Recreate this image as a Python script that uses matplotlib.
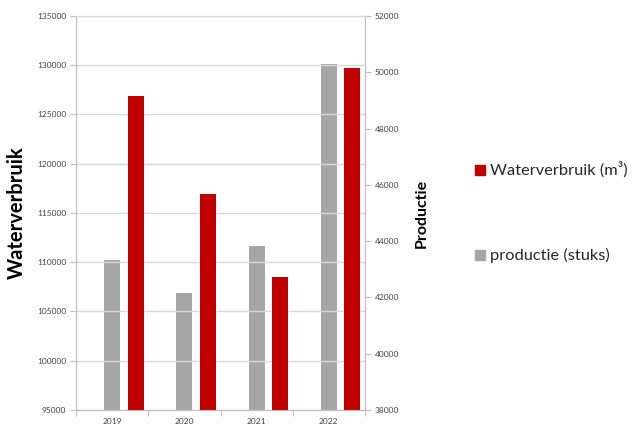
import matplotlib
matplotlib.use("Agg")
import matplotlib.pyplot as plt
from matplotlib.patches import Rectangle
import numpy as np

# Data
years = ["2019", "2020", "2021", "2022"]
waterverbruik = [126900, 116900, 108500, 129700]   # left axis
productie = [43330, 42170, 43830, 50300]            # right axis (stuks)

left_ticks = [95000, 100000, 105000, 110000, 115000, 120000, 125000, 130000, 135000]
right_ticks = [38000, 40000, 42000, 44000, 46000, 48000, 50000, 52000]

RED = "#C00000"
GREY = "#A6A6A6"
GRID = "#D9D9D9"
SPINE = "#BFBFBF"
TXT = "#404040"

plt.rcParams["font.family"] = ["Lato", "DejaVu Sans"]

W, H = 632, 432
fig = plt.figure(figsize=(W / 100, H / 100), dpi=100)
ax = fig.add_axes([76 / W, 1 - 410 / H, (365 - 76) / W, (410 - 16) / H])
ax2 = ax.twinx()

x = np.arange(len(years))
width = 0.22
offset = 0.325

bars_w = ax.bar(x + offset, waterverbruik, width, color=RED, zorder=3,
                label="Waterverbruik (m³)")
bars_p = ax2.bar(x, productie, width, color=GREY, zorder=3,
                 label="productie (stuks)")

ax.set_xlim(-0.5, len(years) - 0.5)
ax.set_ylim(95000, 135000)
ax2.set_ylim(38000, 52000)

ax.set_yticks(left_ticks)
ax.set_yticklabels([str(v) for v in left_ticks])
ax2.set_yticks(right_ticks)
ax2.set_yticklabels([str(v) for v in right_ticks])

ax.set_xticks(x)
ax.set_xticklabels(years)
ax.set_xticks(np.arange(-0.5, len(years)), minor=True)
ax.tick_params(axis="x", which="major", length=0, pad=6, labelsize=6, labelcolor=TXT)
ax.tick_params(axis="x", which="minor", length=4, color=SPINE, width=0.8)
ax.tick_params(axis="y", length=4, color=SPINE, width=0.8, labelsize=6, labelcolor=TXT, pad=3)
ax2.tick_params(axis="y", length=4, color=SPINE, width=0.8, labelsize=6, labelcolor=TXT, pad=3)

ax.yaxis.grid(True, color=GRID, linewidth=1.0, zorder=0)
ax.set_axisbelow(True)
ax2.set_zorder(ax.get_zorder() + 1)
ax2.patch.set_visible(False)
ax.set_zorder(ax2.get_zorder() + 1)
ax.patch.set_visible(False)

for a in (ax, ax2):
    for s in a.spines.values():
        s.set_color(SPINE)
        s.set_linewidth(0.8)
    a.spines["top"].set_color(GRID)

ax.set_ylabel("Waterverbruik", fontsize=14.5, fontweight="bold", color="black")
ax.yaxis.set_label_coords((27 - 76) / 289, 0.5)
ax2.set_ylabel("Productie", fontsize=11.5, fontweight="bold", color="black")
ax2.yaxis.set_label_coords((415 - 76) / 289, 0.5)

# Legend entries drawn in figure coordinates
legend_items = [(bars_w, RED, 170), (bars_p, GREY, 255)]
for bars, colour, yc in legend_items:
    fig.add_artist(Rectangle((475 / W, 1 - (yc + 5) / H), 10 / W, 10 / H,
                             transform=fig.transFigure, color=colour))
    fig.text(490 / W, 1 - yc / H, bars.get_label(), fontsize=11.8,
             va="center", ha="left", color="#262626")

fig.savefig("out.png", dpi=100)
